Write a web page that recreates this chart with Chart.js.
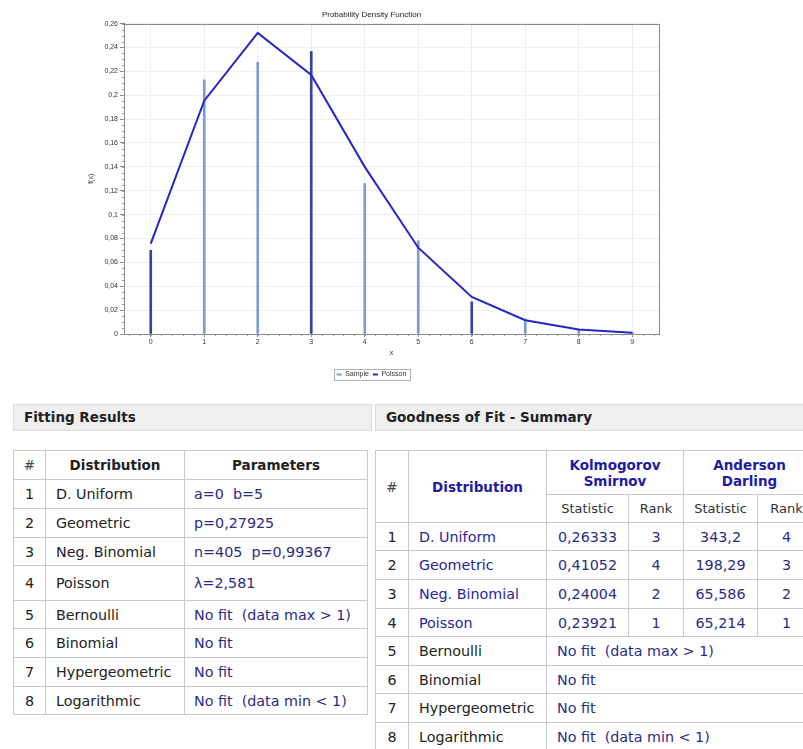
<!DOCTYPE html>
<html lang="en">
<head>
    <meta charset="UTF-8">
    <title>Probability Density Function</title>
    <script src="https://cdn.jsdelivr.net/npm/chart.js"></script>
    <style>
        body { margin: 0; background: #fff; width: 803px; height: 749px; overflow: hidden; position: relative;
               font-family: "DejaVu Sans", Verdana, sans-serif; }
        #chartBox { position: absolute; left: 0; top: 0; width: 680px; height: 392px; }
        .bar { position: absolute; top: 404px; height: 25px; background: #efefef; border: 1px solid #dcdcdc;
               font-weight: bold; font-size: 13.5px; color: #222; line-height: 25px; padding-left: 10px; box-sizing: content-box; }
        table { position: absolute; top: 450px; border-collapse: collapse; table-layout: fixed; font-size: 14.3px; color: #222; }
        td, th { border: 1px solid #c9c9c9; padding: 0; vertical-align: middle; white-space: nowrap; overflow: hidden; }
        th { font-weight: bold; font-size: 13.5px; }
        th.num { font-weight: normal; color: #444; }
        td.c { text-align: center; }
        td.l { padding-left: 10px; }
        .val { color: #2b2b86; }
        .blue { color: #2525a0; }
        th.blue { color: #1c1ca6; }
        th.sub { font-weight: normal; font-size: 13px; color: #333; }
    </style>
</head>
<body>
    <div id="chartBox"><canvas id="pdfChart"></canvas></div>

    <div class="bar" style="left:13px; width:347px;">Fitting Results</div>
    <div class="bar" style="left:375px; width:440px;">Goodness of Fit - Summary</div>

    <table id="fitTable" style="left:13px; width:354px;">
        <colgroup><col style="width:32px"><col style="width:139px"><col style="width:183px"></colgroup>
        <thead>
            <tr style="height:29px"><th class="num">#</th><th>Distribution</th><th>Parameters</th></tr>
        </thead>
        <tbody></tbody>
    </table>

    <table id="gofTable" style="left:375px; width:440px;">
        <colgroup><col style="width:33px"><col style="width:138px"><col style="width:82px"><col style="width:55px"><col style="width:74px"><col style="width:58px"></colgroup>
        <thead>
            <tr style="height:44px">
                <th class="num" rowspan="2">#</th>
                <th class="blue" rowspan="2">Distribution</th>
                <th class="blue" colspan="2" style="line-height:16px">Kolmogorov<br>Smirnov</th>
                <th class="blue" colspan="2" style="line-height:16px">Anderson<br>Darling</th>
            </tr>
            <tr style="height:28px">
                <th class="sub">Statistic</th><th class="sub">Rank</th><th class="sub">Statistic</th><th class="sub">Rank</th>
            </tr>
        </thead>
        <tbody></tbody>
    </table>

    <script>
        // chart data
        const xLabels = ['0', '1', '2', '3', '4', '5', '6', '7', '8', '9'];
        const sampleValues = [0.070, 0.213, 0.2275, 0.2365, 0.126, 0.078, 0.027, 0.0125, 0.004, 0.001];
        const poissonValues = [0.0757, 0.1954, 0.2522, 0.2170, 0.1400, 0.0723, 0.0311, 0.0115, 0.0037, 0.0011];
        const yTicks = [0, 0.02, 0.04, 0.06, 0.08, 0.1, 0.12, 0.14, 0.16, 0.18, 0.2, 0.22, 0.24, 0.26];

        // table data
        const distNames = ['D. Uniform', 'Geometric', 'Neg. Binomial', 'Poisson', 'Bernoulli', 'Binomial', 'Hypergeometric', 'Logarithmic'];
        const fitParams = ['a=0&nbsp; b=5', 'p=0,27925', 'n=405&nbsp; p=0,99367', '\u03bb=2,581', 'No fit&nbsp; (data max &gt; 1)', 'No fit', 'No fit', 'No fit&nbsp; (data min &lt; 1)'];
        const ksStat = ['0,26333', '0,41052', '0,24004', '0,23921'];
        const ksRank = [3, 4, 2, 1];
        const adStat = ['343,2', '198,29', '65,586', '65,214'];
        const adRank = [4, 3, 2, 1];

        const fitRowH = [29, 29, 28, 35, 28, 29, 29, 28];
        const gofRowH = [28, 29, 29, 28, 29, 28, 29, 28];

        let html = '';
        distNames.forEach((d, i) => {
            html += `<tr style="height:${fitRowH[i]}px"><td class="c">${i + 1}</td><td class="l">${d}</td><td class="l val" style="padding-left:9px">${fitParams[i]}</td></tr>`;
        });
        document.querySelector('#fitTable tbody').innerHTML = html;

        html = '';
        distNames.forEach((d, i) => {
            if (i < ksStat.length) {
                html += `<tr style="height:${gofRowH[i]}px"><td class="c">${i + 1}</td><td class="l blue">${d}</td>` +
                    `<td class="c val">${ksStat[i]}</td><td class="c val">${ksRank[i]}</td>` +
                    `<td class="c val">${adStat[i]}</td><td class="c val">${adRank[i]}</td></tr>`;
            } else {
                html += `<tr style="height:${gofRowH[i]}px"><td class="c">${i + 1}</td><td class="l">${d}</td>` +
                    `<td class="l val" colspan="4">${fitParams[i]}</td></tr>`;
            }
        });
        document.querySelector('#gofTable tbody').innerHTML = html;

        const darkBar = '#33449f', lightBar = '#7c9ad6';
        const barColors = xLabels.map((_, i) => (i % 3 === 0 ? darkBar : lightBar));

        // plot frame + minor ticks + legend border
        const extras = {
            id: 'extras',
            afterDraw(chart) {
                const { ctx, chartArea: a, scales: { x, y } } = chart;
                ctx.save();
                ctx.lineWidth = 1;
                ctx.strokeStyle = '#8a8a8a';
                ctx.strokeRect(Math.round(a.left) + 0.5, Math.round(a.top) + 0.5, Math.round(a.right - a.left), Math.round(a.bottom - a.top));
                ctx.strokeStyle = '#999';
                ctx.beginPath();
                for (let k = -2; k <= 47; k++) {
                    const px = Math.round(x.getPixelForValue(k * 0.2)) + 0.5;
                    ctx.moveTo(px, a.bottom);
                    ctx.lineTo(px, a.bottom + 2);
                }
                for (let k = 0; k <= 52; k++) {
                    const py = Math.round(y.getPixelForValue(k * 0.005)) + 0.5;
                    ctx.moveTo(a.left - 2, py);
                    ctx.lineTo(a.left, py);
                }
                ctx.stroke();
                const boxes = chart.legend.legendHitBoxes;
                if (boxes.length) {
                    const l = boxes[0].left - 3, r = boxes[boxes.length - 1].left + boxes[boxes.length - 1].width + 3;
                    const t = boxes[0].top - 2, h = boxes[0].height + 4;
                    ctx.strokeStyle = '#b0b0b0';
                    ctx.strokeRect(Math.round(l) + 0.5, Math.round(t) + 0.5, Math.round(r - l), Math.round(h));
                }
                ctx.restore();
            }
        };

        new Chart(document.getElementById('pdfChart'), {
            data: {
                labels: xLabels,
                datasets: [
                    {
                        type: 'bar',
                        label: 'Sample',
                        data: sampleValues,
                        backgroundColor: barColors,
                        barThickness: 2,
                        order: 2
                    },
                    {
                        type: 'line',
                        label: 'Poisson',
                        data: poissonValues,
                        borderColor: '#2626c4',
                        backgroundColor: '#2626c4',
                        borderWidth: 2,
                        pointRadius: 0,
                        tension: 0,
                        order: 1
                    }
                ]
            },
            options: {
                responsive: true,
                maintainAspectRatio: false,
                animation: false,
                layout: { padding: { left: 84, right: 21, top: 0, bottom: 4 } },
                plugins: {
                    title: {
                        display: true,
                        text: 'Probability Density Function',
                        color: '#222',
                        font: { family: 'Liberation Sans', size: 8, weight: 'normal' },
                        padding: { top: 10, bottom: 4 }
                    },
                    legend: {
                        position: 'bottom',
                        labels: {
                            color: '#333',
                            font: { family: 'Liberation Sans', size: 7 },
                            boxWidth: 5,
                            boxHeight: 2,
                            padding: 4,
                            sort: (a, b) => a.datasetIndex - b.datasetIndex,
                            generateLabels(chart) {
                                const items = Chart.defaults.plugins.legend.labels.generateLabels(chart);
                                items.forEach(it => {
                                    if (it.datasetIndex === 0) it.fillStyle = lightBar;
                                    it.lineWidth = 0;
                                    it.strokeStyle = 'transparent';
                                });
                                return items;
                            }
                        }
                    },
                    tooltip: { enabled: false }
                },
                scales: {
                    x: {
                        type: 'category',
                        offset: true,
                        grid: { offset: false, color: '#efefef', tickColor: '#888', tickLength: 3 },
                        border: { color: '#777' },
                        ticks: { color: '#333', font: { family: 'Liberation Sans', size: 7 }, padding: 1, maxRotation: 0 },
                        title: { display: true, text: 'x', color: '#333', font: { family: 'Liberation Sans', size: 7 }, padding: { top: 0, bottom: 10 } },
                        afterFit(scale) { scale.height = 33; }
                    },
                    y: {
                        min: 0,
                        max: 0.26,
                        afterBuildTicks(scale) { scale.ticks = yTicks.map(v => ({ value: v })); },
                        grid: { color: '#efefef', tickColor: '#888', tickLength: 4 },
                        border: { color: '#777' },
                        ticks: {
                            color: '#333',
                            font: { family: 'Liberation Sans', size: 7 },
                            padding: 2,
                            callback: v => String(Math.round(v * 100) / 100).replace('.', ',')
                        },
                        title: { display: true, text: 'f(x)', color: '#333', font: { family: 'Liberation Sans', size: 7 }, padding: { top: 3, bottom: 0 } },
                        afterFit(scale) { scale.width = 40; }
                    }
                }
            },
            plugins: [extras]
        });
    </script>
</body>
</html>
